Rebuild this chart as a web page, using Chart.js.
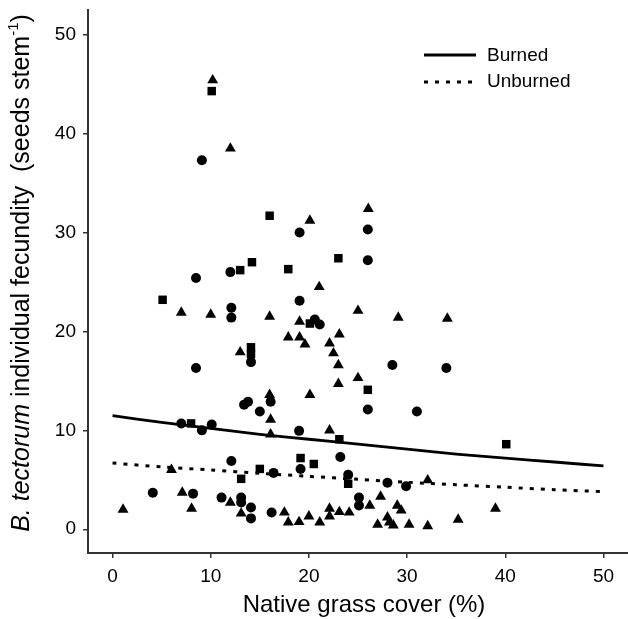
<!DOCTYPE html>
<html>
<head>
<meta charset="utf-8">
<script src="https://cdn.jsdelivr.net/npm/chart.js@4.4.1/dist/chart.umd.min.js"></script>
<style>
  html, body { margin: 0; padding: 0; background: #fff; }
  #wrap { width: 628px; height: 619px; }
</style>
</head>
<body>
<div id="wrap"><canvas id="grafico" width="628" height="619"></canvas></div>
<script>
// tick labels
const xTicks = [0, 10, 20, 30, 40, 50];
const yTicks = [0, 10, 20, 30, 40, 50];

// fitted lines
const lineX = [0, 5, 10, 15, 20, 25, 30, 35, 40, 45, 50];
const burnedY = [11.5, 10.8, 10.2, 9.6, 9.1, 8.6, 8.1, 7.6, 7.2, 6.8, 6.4];
const unburnedY = [6.7, 6.3, 6.0, 5.65, 5.35, 5.05, 4.75, 4.5, 4.25, 4.0, 3.8];

// observations: [native grass cover %, seeds per stem]
const circles = [
  [9.1,37.3],[8.5,25.4],[12.0,26.0],[12.1,22.4],[12.1,21.4],[14.1,16.9],[8.5,16.3],
  [13.8,12.9],[13.4,12.6],[16.1,12.9],[15.0,11.9],[7.0,10.7],[9.1,10.0],[10.1,10.6],
  [12.1,6.9],[16.4,5.7],[4.1,3.7],[8.2,3.6],[11.1,3.2],[13.1,3.2],[13.1,2.7],[14.1,2.2],
  [14.1,1.1],[16.2,1.7],[19.05,30.0],[26.0,30.3],[26.0,27.2],[19.05,23.1],[20.6,21.2],
  [21.1,20.7],[28.5,16.6],[34.0,16.3],[26.0,12.1],[31.0,11.9],[19.0,9.95],[23.2,7.3],
  [19.15,6.1],[24.0,5.5],[28.0,4.7],[29.9,4.35],[25.1,3.2],[25.1,2.4]
];
const squares = [
  [10.1,44.3],[16.0,31.7],[14.2,27.0],[13.0,26.2],[17.9,26.3],[5.1,23.2],[14.1,18.4],
  [14.1,17.7],[8.0,10.7],[13.1,5.1],[15.0,6.1],[23.0,27.4],[20.1,20.8],[26.0,14.1],
  [23.1,9.1],[19.15,7.2],[20.5,6.6],[24.0,4.6],[40.1,8.6]
];
const triangles = [
  [10.2,45.4],[12.0,38.5],[7.0,21.9],[10.0,21.7],[16.0,21.5],[17.9,19.4],[13.0,17.9],
  [16.0,13.6],[16.1,11.1],[16.1,9.6],[6.0,6.0],[7.1,3.7],[8.05,2.1],[1.07,2.0],[12.0,2.7],
  [13.1,1.6],[17.5,1.7],[17.9,0.7],[26.05,32.4],[20.1,31.2],[21.05,24.5],[25.0,22.1],
  [29.1,21.4],[34.1,21.3],[19.05,21.0],[19.05,19.4],[19.6,18.7],[23.1,19.7],[22.1,18.8],
  [22.5,17.8],[23.0,16.6],[25.0,15.3],[23.0,14.7],[20.1,13.6],[22.1,10.0],[32.1,4.96],
  [27.3,3.3],[26.2,2.4],[29.0,2.4],[29.4,1.9],[19.0,0.74],[20.0,1.3],[21.1,0.7],[22.1,2.1],
  [22.1,1.3],[23.1,1.75],[24.1,1.7],[27.0,0.47],[28.0,1.2],[28.2,0.7],[28.6,0.4],
  [30.2,0.47],[32.1,0.33],[35.2,0.98],[39.0,2.1]
];

const FONT = "'Liberation Sans', Arial, sans-serif";
const pts = arr => arr.map(p => ({x: p[0], y: p[1]}));
const linha = ys => ys.map((y, i) => ({x: lineX[i], y: y}));

const extras = {
  id: "extras",
  afterDraw(chart) {
    const ctx = chart.ctx;
    ctx.save();
    ctx.fillStyle = "#000";
    ctx.strokeStyle = "#000";
    // legend
    ctx.lineWidth = 3;
    ctx.beginPath(); ctx.moveTo(424, 55); ctx.lineTo(476, 55); ctx.stroke();
    ctx.setLineDash([4, 7]);
    ctx.beginPath(); ctx.moveTo(424, 82); ctx.lineTo(474, 82); ctx.stroke();
    ctx.setLineDash([]);
    ctx.font = "19px " + FONT;
    ctx.textBaseline = "middle";
    ctx.textAlign = "left";
    ctx.fillText("Burned", 487, 56);
    ctx.fillText("Unburned", 487, 82);
    // x title
    ctx.font = "24px " + FONT;
    ctx.textAlign = "center";
    ctx.fillText("Native grass cover (%)", 364, 605);
    // y title with italic species name and superscript
    ctx.translate(22, 273);
    ctx.rotate(-Math.PI / 2);
    const partes = [
      ["italic 25px " + FONT, "B. tectorum", 0],
      ["25px " + FONT, " individual fecundity  (seeds stem", 0],
      ["15px " + FONT, "-1", -8],
      ["25px " + FONT, ")", 0]
    ];
    let total = 0;
    partes.forEach(p => { ctx.font = p[0]; total += ctx.measureText(p[1]).width; });
    let x = -total / 2;
    ctx.textAlign = "left";
    partes.forEach(p => {
      ctx.font = p[0];
      ctx.fillText(p[1], x, p[2]);
      x += ctx.measureText(p[1]).width;
    });
    ctx.restore();
  }
};

const eixo = {
  border: {display: true, color: "#333", width: 2},
  grid: {display: true, drawOnChartArea: false, drawTicks: true, tickLength: 5, color: "#333", lineWidth: 1.5},
  ticks: {color: "#000", font: {family: FONT, size: 19}, padding: 7}
};

new Chart(document.getElementById("grafico"), {
  type: "scatter",
  data: {
    datasets: [
      {label: "Burned", type: "line", data: linha(burnedY), borderColor: "#000", borderWidth: 2.8, pointRadius: 0, fill: false, tension: 0.3},
      {label: "Unburned", type: "line", data: linha(unburnedY), borderColor: "#000", borderWidth: 3, borderDash: [4, 7], pointRadius: 0, fill: false, tension: 0.3},
      {label: "c", data: pts(circles), pointStyle: "circle", pointRadius: 5, backgroundColor: "#000", borderColor: "#000", borderWidth: 0},
      {label: "s", data: pts(squares), pointStyle: "rect", pointRadius: 6, backgroundColor: "#000", borderColor: "#000", borderWidth: 0},
      {label: "t", data: pts(triangles), pointStyle: "triangle", pointRadius: 6.3, backgroundColor: "#000", borderColor: "#000", borderWidth: 0}
    ]
  },
  options: {
    responsive: false,
    animation: false,
    layout: {autoPadding: false, padding: {top: 10, right: 0, left: 0, bottom: 0}},
    plugins: {legend: {display: false}, tooltip: {enabled: false}},
    scales: {
      x: Object.assign({}, eixo, {
        type: "linear", min: -2.5, max: 52.5,
        afterBuildTicks: s => { s.ticks = xTicks.map(v => ({value: v})); },
        afterFit: s => { s.height = 66; s.paddingLeft = 0; s.paddingRight = 0; }
      }),
      y: Object.assign({}, eixo, {
        type: "linear", min: -2.4, max: 52.5,
        afterBuildTicks: s => { s.ticks = yTicks.map(v => ({value: v})); },
        afterFit: s => { s.width = 88; s.paddingTop = 0; s.paddingBottom = 0; }
      })
    }
  },
  plugins: [extras]
});
</script>
</body>
</html>
